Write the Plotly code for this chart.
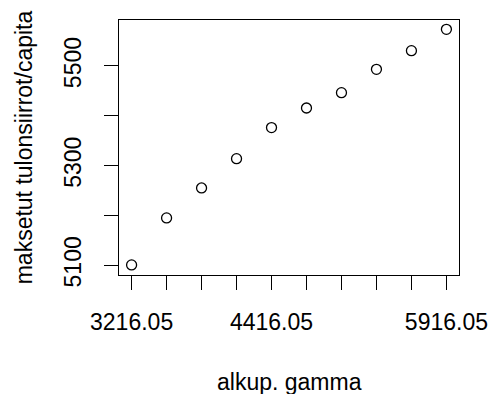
import plotly.graph_objects as go

gamma = [3216.05, 3516.05, 3816.05, 4116.05, 4416.05, 4716.05, 5016.05, 5316.05, 5616.05, 5916.05]
transfers = [5100.7, 5195.0, 5255.2, 5314.0, 5376.3, 5415.7, 5446.5, 5493.3, 5530.8, 5573.6]

x_tickvals = gamma
x_ticktext = ["3216.05", "", "", "", "4416.05", "", "", "", "", "5916.05"]
y_tickvals = [5100, 5200, 5300, 5400, 5500]
y_ticktext = ["5100", "", "5300", "", "5500"]

FONT = "Liberation Sans, Arial, Helvetica, sans-serif"
FS = 23

fig = go.Figure()
fig.add_trace(go.Scatter(
    x=gamma, y=transfers, mode="markers",
    marker=dict(symbol="circle-open", size=10, color="black", line=dict(width=1.3, color="black")),
    showlegend=False, hoverinfo="skip",
))

fig.update_layout(
    width=502, height=394,
    margin=dict(l=119, r=43, t=20, b=119),
    paper_bgcolor="white", plot_bgcolor="white",
    font=dict(family=FONT, size=FS, color="black"),
    xaxis=dict(
        range=[3108.05, 6024.05], tickvals=x_tickvals, ticktext=x_ticktext,
        showgrid=False, zeroline=False, showline=True, mirror=True,
        linecolor="black", linewidth=1.2, ticks="outside", ticklen=14, tickwidth=1.2,
        tickcolor="black", ticklabelstandoff=12,
        tickfont=dict(family=FONT, size=FS, color="black"),
    ),
    yaxis=dict(
        range=[5080.5, 5592.3], tickvals=y_tickvals, ticktext=y_ticktext,
        showgrid=False, zeroline=False, showline=True, mirror=True,
        linecolor="black", linewidth=1.2, ticks="outside", ticklen=14, tickwidth=1.2,
        tickcolor="black", tickangle=-90, ticklabelstandoff=14,
        tickfont=dict(family=FONT, size=FS, color="black"),
    ),
    annotations=[
        dict(text="alkup. gamma", xref="paper", yref="paper", x=0.5, y=-0.42,
             xanchor="center", yanchor="middle", showarrow=False,
             font=dict(family=FONT, size=FS, color="black")),
        dict(text="maksetut tulonsiirrot/capita", xref="paper", yref="paper", x=-0.28, y=0.5,
             xanchor="center", yanchor="middle", textangle=-90, showarrow=False,
             font=dict(family=FONT, size=FS, color="black")),
    ],
)

fig.write_html("out.html")
